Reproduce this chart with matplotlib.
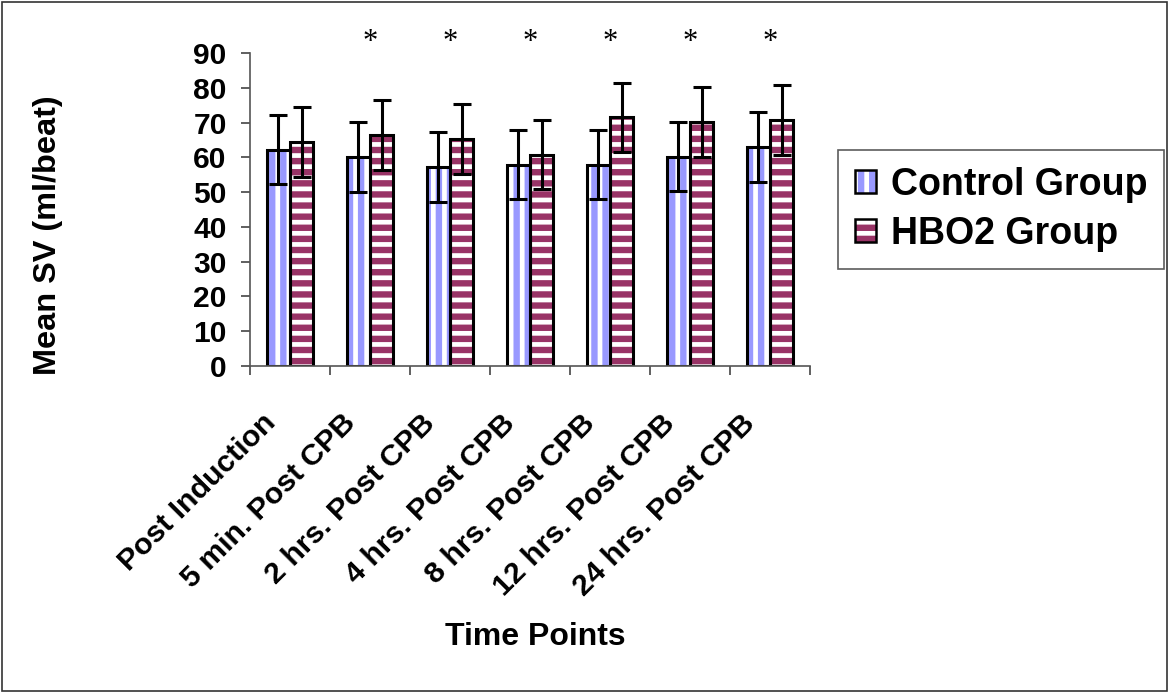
import matplotlib
matplotlib.use('Agg')
import matplotlib.pyplot as plt
import matplotlib.transforms as mtransforms
from matplotlib.patches import Rectangle
from matplotlib.legend_handler import HandlerTuple
import numpy as np

# values
time_points = ['Post Induction', '5 min. Post CPB', '2 hrs. Post CPB', '4 hrs. Post CPB',
               '8 hrs. Post CPB', '12 hrs. Post CPB', '24 hrs. Post CPB']
control_mean = [62.2, 60.1, 57.2, 57.9, 57.9, 60.2, 63.0]
control_err = [10, 10, 10, 10, 10, 10, 10]
hbo2_mean = [64.4, 66.5, 65.2, 60.8, 71.5, 70.2, 70.8]
hbo2_err = [10, 10, 10, 10, 10, 10, 10]
significant = [False, True, True, True, True, True, True]

DPI = 200
plt.rcParams['font.family'] = ['Liberation Sans', 'DejaVu Sans']
plt.rcParams['hatch.linewidth'] = 2.3

fig = plt.figure(figsize=(1169 / DPI, 693 / DPI), dpi=DPI)
ax = fig.add_axes([250 / 1169, 1 - 366 / 693, 560 / 1169, 313 / 693])

x = np.arange(len(time_points))
w = 0.29
blue = '#9999FF'
plum = '#993366'

# stripe fills first, then black outlines on top
ax.bar(x - w / 2, control_mean, w, color='white', edgecolor=blue, hatch='|||', linewidth=0)
ax.bar(x + w / 2, hbo2_mean, w, color='white', edgecolor=plum, hatch='---', linewidth=0)
ax.bar(x - w / 2, control_mean, w, color='none', edgecolor='black', linewidth=1.1)
ax.bar(x + w / 2, hbo2_mean, w, color='none', edgecolor='black', linewidth=1.1)

ax.errorbar(x - w / 2, control_mean, yerr=control_err, fmt='none', ecolor='black',
            elinewidth=1.1, capsize=3.4, capthick=1.1)
ax.errorbar(x + w / 2, hbo2_mean, yerr=hbo2_err, fmt='none', ecolor='black',
            elinewidth=1.1, capsize=3.4, capthick=1.1)

# asterisks above the plot
trans = mtransforms.blended_transform_factory(ax.transData, ax.transAxes)
for i, s in enumerate(significant):
    if s:
        ax.text(i, 1.035, '*', transform=trans, ha='center', va='center',
                fontsize=11, family='Liberation Serif', clip_on=False)

ax.set_xlim(-0.5, len(time_points) - 0.5)
ax.set_ylim(0, 90)
ax.set_yticks(np.arange(0, 91, 10))
ax.set_xticks(np.arange(-0.5, len(time_points), 1.0))
ax.set_xticklabels([])
ax.set_xticks(x, minor=True)
ax.set_xticklabels(time_points, minor=True, rotation=45, ha='right', va='center',
                   rotation_mode='anchor', fontsize=10.9, fontweight='bold')
ax.tick_params(axis='x', which='minor', length=0, pad=19)
ax.tick_params(axis='x', which='major', length=3.4, width=0.6, color='#444444', direction='out')
ax.tick_params(axis='y', length=3.4, width=0.6, color='#444444', pad=5)
for lab in ax.get_xticklabels(minor=True):
    lab.set_transform(lab.get_transform() + mtransforms.ScaledTranslation(-19 / DPI, 0, fig.dpi_scale_trans))
for lab in ax.get_yticklabels():
    lab.set_fontsize(10.8)
    lab.set_fontweight('bold')

for side in ['top', 'right']:
    ax.spines[side].set_visible(False)
for side in ['left', 'bottom']:
    ax.spines[side].set_color('#555555')
    ax.spines[side].set_linewidth(0.6)

fig.text(48 / 1169, 1 - 235 / 693, 'Mean SV (ml/beat)', rotation=90, ha='center', va='center',
         fontsize=11.7, fontweight='bold')
fig.text(535 / 1169, 1 - 637 / 693, 'Time Points', ha='center', va='center',
         fontsize=11.5, fontweight='bold')

# legend: striped square with a black outline
f1 = Rectangle((0, 0), 1, 1, facecolor='white', edgecolor=blue, hatch='|||', linewidth=0)
f2 = Rectangle((0, 0), 1, 1, facecolor='white', edgecolor=plum, hatch='---', linewidth=0)
o1 = Rectangle((0, 0), 1, 1, facecolor='none', edgecolor='black', linewidth=0.9)
o2 = Rectangle((0, 0), 1, 1, facecolor='none', edgecolor='black', linewidth=0.9)
leg = fig.legend([(f1, o1), (f2, o2)], ['Control Group', 'HBO2 Group'],
                 handler_map={tuple: HandlerTuple(ndivide=1)},
                 loc='upper left', bbox_to_anchor=(838 / 1169, 1 - 150 / 693),
                 prop={'size': 13.5, 'weight': 'bold'}, frameon=True, fancybox=False,
                 edgecolor='#333333', handlelength=0.55, handleheight=0.55, handletextpad=0.4,
                 borderpad=0.45, labelspacing=0.35, borderaxespad=0)
leg.get_frame().set_linewidth(0.6)

# outer frame of the picture
fig.patches.append(Rectangle((0.002, 0.003), 0.996, 0.994, transform=fig.transFigure,
                             fill=False, edgecolor='#333333', linewidth=0.6))

fig.savefig('out.png', dpi=DPI)
